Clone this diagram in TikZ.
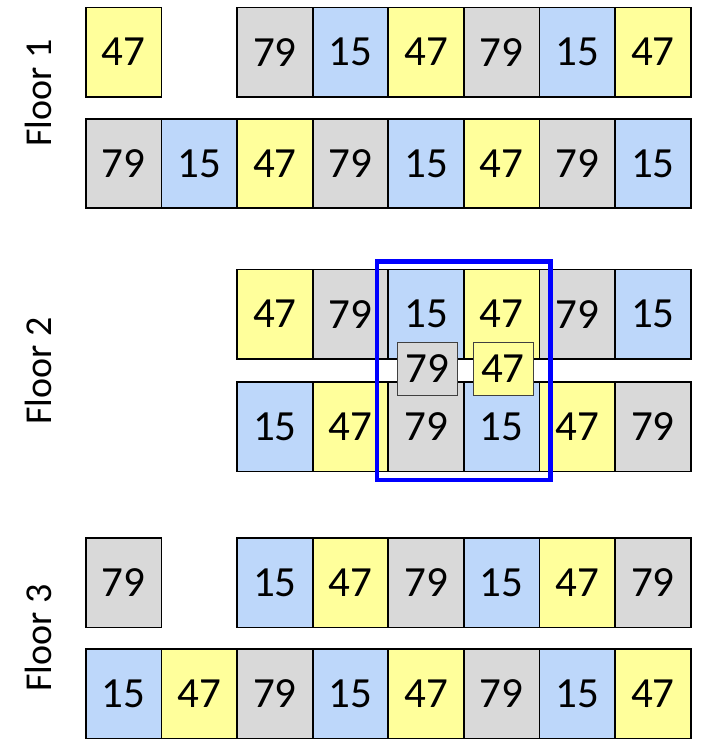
\documentclass[tikz,border=0pt]{standalone}
\usepackage{fontspec}
\setmainfont{Carlito}
\definecolor{cgray}{RGB}{217,217,217}
\definecolor{cblue}{RGB}{189,215,250}
\definecolor{cyellow}{RGB}{255,255,155}
\definecolor{cframe}{RGB}{0,0,255}
\begin{document}
\begin{tikzpicture}[x=1pt,y=-1pt,
  cell/.style={draw=black, line width=1.8pt, minimum width=75.6pt, minimum height=89.5pt, inner sep=0pt, anchor=north west, font=\fontsize{43}{43}\selectfont},
  c79/.style={cell, fill=cgray},
  c15/.style={cell, fill=cblue},
  c47/.style={cell, fill=cyellow},
  small/.style={draw=black!75, line width=0.9pt, minimum width=60pt, minimum height=53pt, inner sep=0pt, anchor=north west, font=\fontsize{43}{43}\selectfont},
  floorlabel/.style={rotate=90, font=\fontsize{38}{38}\selectfont, inner sep=0pt},
  frame/.style={draw=cframe, line width=4.5pt}]
\useasboundingbox (0,0) rectangle (701,739);
% Floor labels
\node[floorlabel] (l1) at (38,93) {Floor 1};
\node[floorlabel] (l2) at (38,371) {Floor 2};
\node[floorlabel] (l3) at (38,638) {Floor 3};
% Floor 1
\node[c47] (f1s) at (85,6.5) {47};
\foreach \v [count=\i from 0] in {79,15,47,79,15,47}
  \node[c\v] (f1a\i) at ({236.2+\i*75.6},6.5) {\v};
\foreach \v [count=\i from 0] in {79,15,47,79,15,47,79,15}
  \node[c\v] (f1b\i) at ({85+\i*75.6},117.8) {\v};
% Floor 2
\foreach \v [count=\i from 0] in {47,79,15,47,79,15}
  \node[c\v] (f2a\i) at ({236.2+\i*75.6},268.5) {\v};
\foreach \v [count=\i from 0] in {15,47,79,15,47,79}
  \node[c\v] (f2b\i) at ({236.2+\i*75.6},381) {\v};
% Floor 3
\node[c79] (f3s) at (85,537) {79};
\foreach \v [count=\i from 0] in {15,47,79,15,47,79}
  \node[c\v] (f3a\i) at ({236.2+\i*75.6},537) {\v};
\foreach \v [count=\i from 0] in {15,47,79,15,47,79,15,47}
  \node[c\v] (f3b\i) at ({85+\i*75.6},648.3) {\v};
% overlay boxes
\node[small, fill=cgray] (o1) at (397,342) {79};
\node[small, fill=cyellow] (o2) at (472.5,342) {47};
% blue frame
\draw[frame] (377,261.5) rectangle (550.5,480);
\end{tikzpicture}
\end{document}
